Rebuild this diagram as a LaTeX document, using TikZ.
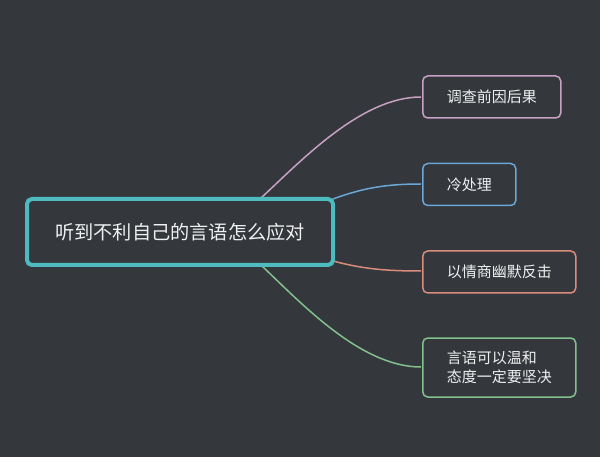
\documentclass[tikz,border=0pt]{standalone}
\usepackage{fontspec}
\setmainfont{Noto Sans CJK SC}
\usepackage{tikz}
\usetikzlibrary{calc,positioning}
\newcommand{\mapunit}{1pt}
\definecolor{mapbg}{HTML}{34383D}
\definecolor{maptext}{HTML}{F0F0F0}
\definecolor{rootline}{HTML}{4DBBC0}
\definecolor{pinkline}{HTML}{C8A0C3}
\definecolor{blueline}{HTML}{6BA6D6}
\definecolor{orangeline}{HTML}{D98C7A}
\definecolor{greenline}{HTML}{84C08E}

\begin{document}
\begin{tikzpicture}[x=\mapunit,y=-\mapunit,
	rootbox/.style={draw=rootline, line width=4pt, rounded corners=5pt, fill=mapbg,
		minimum width=306pt, minimum height=66pt, text=maptext,
		font=\fontsize{19.2}{23}\selectfont},
	topicbox/.style={draw=#1, line width=1.5pt, rounded corners=5pt, fill=mapbg,
		anchor=west, inner xsep=24pt, minimum height=42pt, text=maptext,
		font=\fontsize{15}{19}\selectfont, align=left},
	branch/.style={draw=#1, line width=1.5pt}]
	\fill[mapbg] (0,0) rectangle (600,457);
	\useasboundingbox (0,0) rectangle (600,457);

	\coordinate (r1) at (261,198);
	\coordinate (r2) at (333,199);
	\coordinate (r3) at (333,261);
	\coordinate (r4) at (262,266);

	\draw[branch=pinkline] (r1) .. controls +(40,-37) and +(-60,0) .. (421,97);
	\draw[branch=blueline] (r2) .. controls +(30,-11) and +(-35,0) .. (421,184);
	\draw[branch=orangeline] (r3) .. controls +(30,8) and +(-35,0) .. (421,271);
	\draw[branch=greenline] (r4) .. controls +(40,38) and +(-60,0) .. (421,367);

	\node[rootbox] (root) at (180,232) {听到不利自己的言语怎么应对};
	\node[topicbox=pinkline] (cause) at (422,97) {调查前因后果};
	\node[topicbox=blueline] (cold) at (422,184.5) {冷处理};
	\node[topicbox=orangeline] (humor) at (422,272) {以情商幽默反击};
	\node[topicbox=greenline, minimum height=59pt] (calm) at (422,367.5) {言语可以温和\\态度一定要坚决};
\end{tikzpicture}
\end{document}
